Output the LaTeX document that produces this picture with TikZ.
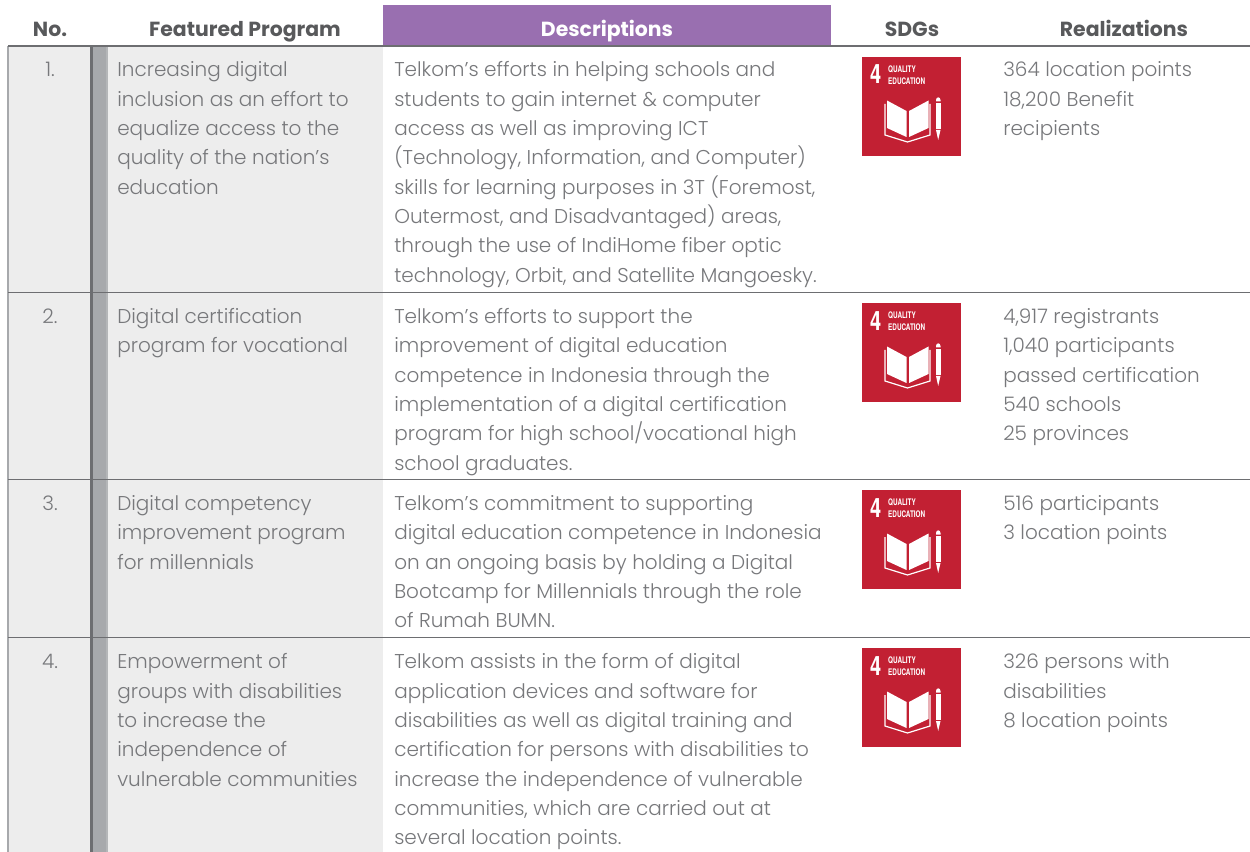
\documentclass[tikz,border=0pt]{standalone}
\usepackage{fontspec}
\setmainfont{Poppins}[UprightFont=* Light,BoldFont=* Bold]
\newfontfamily\iconfont{TeX Gyre Heros}
\definecolor{txt}{HTML}{77787B}
\definecolor{head}{HTML}{58595B}
\definecolor{purp}{HTML}{996FB0}
\definecolor{band}{HTML}{EDEDED}
\definecolor{bar}{HTML}{A7A9AC}
\definecolor{rule}{HTML}{6D6E71}
\definecolor{sdg}{HTML}{C22033}
\tikzset{
  x=0.75pt,y=-0.75pt,
  cell/.style={anchor=north west,inner sep=0pt,align=left,text=txt,font=\fontsize{15pt}{22pt}\selectfont,execute at begin node=\strut},
  numcell/.style={anchor=north,inner sep=0pt,text=txt,font=\fontsize{15pt}{22pt}\selectfont,execute at begin node=\strut},
  headcell/.style={anchor=base,inner sep=0pt,text=head,font=\fontsize{15.3pt}{22pt}\selectfont\bfseries},
  rowrule/.style={draw=rule,line width=1.1pt},
}
\newcommand{\sdgicon}[3]{%
  \begin{scope}[shift={(#2,#3)}]
    \node[fill=sdg,minimum width=74.25pt,minimum height=74.25pt,inner sep=0pt,anchor=north west] (#1) at (0,0) {};
    \node[anchor=base west,inner sep=0pt,text=white,font=\iconfont\bfseries\fontsize{20pt}{20pt}\selectfont,xscale=0.75] (#1n) at (8,27) {4};
    \node[anchor=base west,inner sep=0pt,text=white,font=\iconfont\bfseries\fontsize{6.8pt}{6.8pt}\selectfont,xscale=0.7] (#1a) at (26,15.5) {QUALITY};
    \node[anchor=base west,inner sep=0pt,text=white,font=\iconfont\bfseries\fontsize{6.8pt}{6.8pt}\selectfont,xscale=0.7] (#1b) at (26,27.5) {EDUCATION};
    \fill[white] (25,43.5) -- (44.5,54) -- (44.5,80) -- (25,71) -- cycle;
    \fill[white] (47,54) -- (66.5,43.5) -- (66.5,71) -- (47,80) -- cycle;
    \draw[white,line width=0.9pt] (23,47) -- (23,78) -- (45.5,85) -- (68,78) -- (68,47);
    \fill[white] (74,43) .. controls (74,39.5) and (78.5,39.5) .. (78.5,43) -- (78.5,44.5) -- (74,44.5) -- cycle;
    \fill[white] (74,46) rectangle (78.5,72);
    \fill[white] (74,73) -- (78.5,73) -- (76.2,83) -- cycle;
  \end{scope}}
\begin{document}
\begin{tikzpicture}
\useasboundingbox (0,0) rectangle (1250,852);
% bands
\fill[band] (8,46) rectangle (383,852);
\fill[purp] (383,5) rectangle (831,46);
\fill[bar] (93,46) rectangle (106,852);
\fill[rule] (90,46) rectangle (93,852);
\fill[bar!85!white] (106,46) rectangle (108,852);
\fill[bar] (7,46) rectangle (9,852);
% rules
\foreach \ry in {46,292.5,479.5,637.5}{\draw[rowrule] (8,\ry) -- (1250,\ry);}
% header
\node[headcell] (h1) at (50,36.3) {No.};
\node[headcell] (h2) at (245,36.3) {Featured Program};
\node[headcell,text=white] (h3) at (607,36.3) {Descriptions};
\node[headcell] (h4) at (912,36.3) {SDGs};
\node[headcell] (h5) at (1124,36.3) {Realizations};
% row 1
\node[numcell] (n1) at (50,56) {1.};
\node[cell] (p1) at (117,61.5) {Increasing digital\\inclusion as an effort to\\equalize access to the\\quality of the nation’s\\education};
\node[cell] (d1) at (394,61.5) {Telkom’s efforts in helping schools and\\students to gain internet \& computer\\access as well as improving ICT\\(Technology, Information, and Computer)\\skills for learning purposes in 3T (Foremost,\\Outermost, and Disadvantaged) areas,\\through the use of IndiHome fiber optic\\technology, Orbit, and Satellite Mangoesky.};
\node[cell] (r1) at (1003,61.5) {364 location points\\18,200 Benefit\\recipients};
% row 2
\node[numcell] (n2) at (50,303) {2.};
\node[cell] (p2) at (117,308.2) {Digital certification\\program for vocational};
\node[cell] (d2) at (394,308.2) {Telkom’s efforts to support the\\improvement of digital education\\competence in Indonesia through the\\implementation of a digital certification\\program for high school/vocational high\\school graduates.};
\node[cell] (r2) at (1003,308.2) {4,917 registrants\\1,040 participants\\passed certification\\540 schools\\25 provinces};
% row 3
\node[numcell] (n3) at (50,490) {3.};
\node[cell] (p3) at (117,495.2) {Digital competency\\improvement program\\for millennials};
\node[cell] (d3) at (394,495.2) {Telkom’s commitment to supporting\\digital education competence in Indonesia\\on an ongoing basis by holding a Digital\\Bootcamp for Millennials through the role\\of Rumah BUMN.};
\node[cell] (r3) at (1003,495.2) {516 participants\\3 location points};
% row 4
\node[numcell] (n4) at (50,648) {4.};
\node[cell] (p4) at (117,653.5) {Empowerment of\\groups with disabilities\\to increase the\\independence of\\vulnerable communities};
\node[cell] (d4) at (394,653.5) {Telkom assists in the form of digital\\application devices and software for\\disabilities as well as digital training and\\certification for persons with disabilities to\\increase the independence of vulnerable\\communities, which are carried out at\\several location points.};
\node[cell] (r4) at (1003,653.5) {326 persons with\\disabilities\\8 location points};
% icons
\sdgicon{s1}{862}{57}
\sdgicon{s2}{862}{303}
\sdgicon{s3}{862}{490}
\sdgicon{s4}{862}{648}
\end{tikzpicture}
\end{document}
